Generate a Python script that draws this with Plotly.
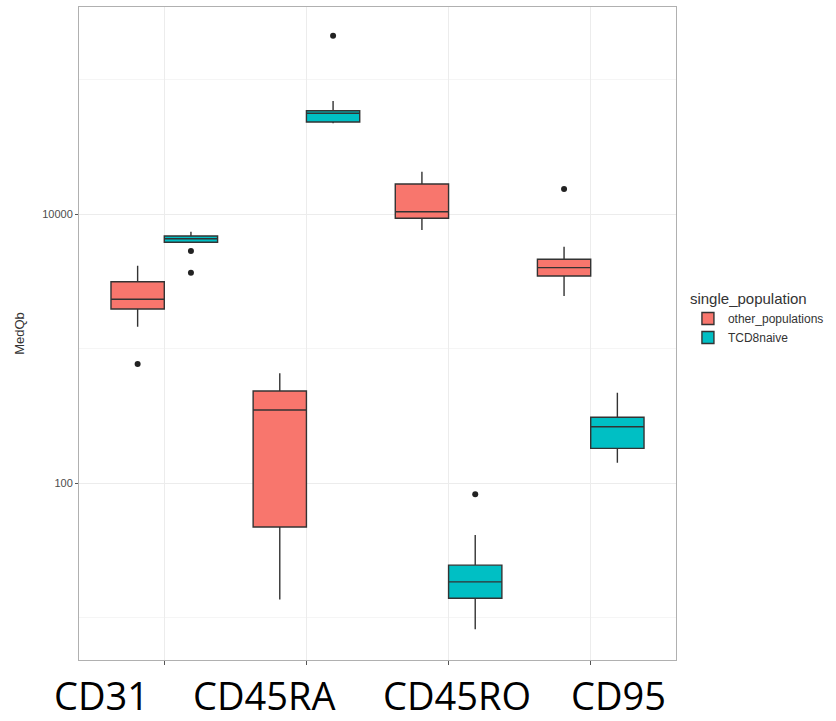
import plotly.graph_objects as go

categories = ["CD31", "CD45RA", "CD45RO", "CD95"]
series_names = ["other_populations", "TCD8naive"]

# other_populations
other_lower = [1452, 13.6, 7600, 2455]
other_q1 = [1967, 47.1, 9290, 3459]
other_median = [2322, 349, 10400, 3990]
other_q3 = [3138, 483, 16710, 4605]
other_upper = [4128, 654, 20630, 5715]
other_outliers = [[767], [], [], [15350]]

# TCD8naive
naive_lower = [6160, 47200, 8.17, 141.6]
naive_q1 = [6160, 48300, 13.9, 181]
naive_median = [6549, 56100, 18.4, 262]
naive_q3 = [6861, 58600, 24.5, 308]
naive_upper = [7386, 69200, 41.0, 469]
naive_outliers = [[5306, 3660], [211800], [82.4], []]

y_tick_vals = [100, 10000]
y_tick_text = ["100", "10000"]
y_minor_vals = [10, 1000, 100000]

colors = ["#F8766D", "#00BFC4"]
edge = "#333333"

fig = go.Figure()
stats = [
    (other_lower, other_q1, other_median, other_q3, other_upper, other_outliers),
    (naive_lower, naive_q1, naive_median, naive_q3, naive_upper, naive_outliers),
]
for name, color, (lo, q1, med, q3, up, outl) in zip(series_names, colors, stats):
    fig.add_trace(go.Box(
        name=name,
        x=categories,
        y=outl,
        q1=q1, median=med, q3=q3, lowerfence=lo, upperfence=up,
        fillcolor=color,
        line=dict(color=edge, width=1.4),
        marker=dict(color="#222222", size=6),
        boxpoints="outliers",
        jitter=0,
        pointpos=0,
        whiskerwidth=0,
    ))

fig.update_layout(
    width=836, height=721,
    margin=dict(l=79, r=155, t=7, b=61),
    paper_bgcolor="white",
    plot_bgcolor="white",
    boxmode="group",
    boxgap=0.25,
    boxgroupgap=0,
    font=dict(family="Liberation Sans, Arial, sans-serif", color="#333333"),
    legend=dict(
        title=dict(text="single_population", font=dict(size=15, color="#333333")),
        font=dict(size=12, color="#333333"),
        x=1.02, xanchor="left",
        y=0.575, yanchor="top",
        bgcolor="rgba(0,0,0,0)",
        tracegroupgap=0,
    ),
    showlegend=True,
)

fig.update_xaxes(
    type="category",
    categoryorder="array", categoryarray=categories,
    range=[-0.6, 3.6],
    showticklabels=False,
    ticks="outside", ticklen=4, tickcolor="#555555",
    showgrid=True, gridcolor="#ececec", gridwidth=1,
    showline=True, linecolor="#b0b0b0", linewidth=1, mirror=True,
    zeroline=False,
)

fig.update_yaxes(
    type="log",
    range=[0.684, 5.539],
    tickvals=y_tick_vals, ticktext=y_tick_text,
    ticks="outside", ticklen=3, tickcolor="#555555",
    tickfont=dict(size=11, color="#4d4d4d"),
    showgrid=True, gridcolor="#ececec", gridwidth=1,
    minor=dict(tickvals=y_minor_vals, showgrid=True, gridcolor="#f5f5f5", gridwidth=1, ticks=""),
    showline=True, linecolor="#b0b0b0", linewidth=1, mirror=True,
    zeroline=False,
    title=dict(text="MedQb", font=dict(size=13, color="#333333"), standoff=14),
)

# Large category labels below the panel
label_x_px = [102, 266, 460, 623]
for lab, px in zip(categories, label_x_px):
    fig.add_annotation(
        text=lab, xref="paper", yref="paper",
        x=(px - 79) / 602, y=-(695 - 660) / 653, xanchor="center", yanchor="middle",
        showarrow=False,
        font=dict(family="Open Sans, Noto Sans, sans-serif", size=38, color="#000000"),
    )

fig.write_html("out.html")
